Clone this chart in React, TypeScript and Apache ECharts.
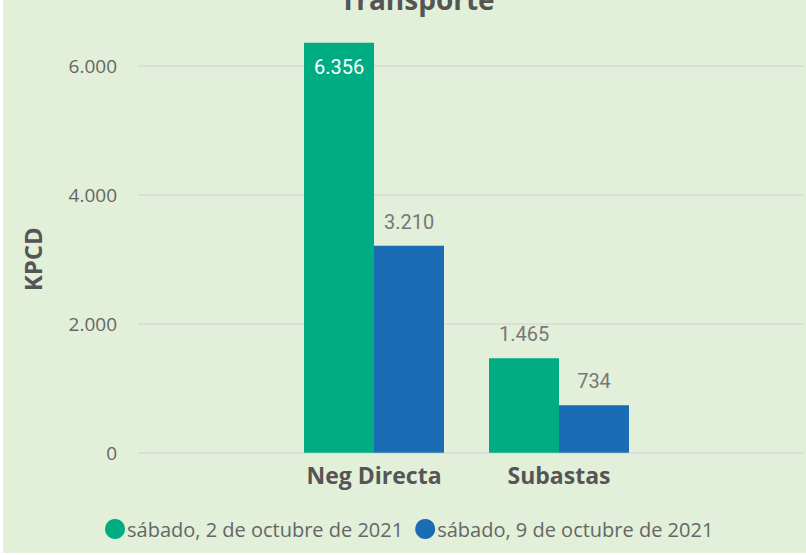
import React, { useEffect, useRef } from "react";
import * as echarts from "echarts";

const categories = ["Neg Directa", "Subastas"];
const seriesNames = ["sábado, 2 de octubre de 2021", "sábado, 9 de octubre de 2021"];
const values2Oct = [6356, 1465];
const values9Oct = [3210, 734];
const yTicks = [0, 2000, 4000, 6000];

const GREEN = "#00ad82";
const BLUE = "#1a6cb4";
const fmt = (v: number) => v.toLocaleString("de-DE");

export default function App() {
  const ref = useRef<HTMLDivElement>(null);
  useEffect(() => {
    if (!ref.current) return;
    const chart = echarts.init(ref.current, undefined, { renderer: "svg" });
    const bottom = 102.3;
    const labelCommon = {
      show: true,
      fontFamily: "Roboto",
      fontSize: 20,
      color: "#777777",
      formatter: (p: any) => fmt(p.value),
    };
    chart.setOption({
      animation: false,
      backgroundColor: "#ffffff",
      graphic: [
        { type: "rect", z: -10, silent: true, shape: { x: 3, y: 0, width: 803, height: 553 }, style: { fill: "#e2efd9" } },
      ],
      title: {
        text: "Transporte",
        left: 335,
        top: -20,
        textStyle: { fontFamily: "Open Sans", fontWeight: "bold", fontSize: 28, color: "#555555" },
      },
      legend: {
        data: seriesNames,
        bottom: 11,
        left: 100,
        icon: "circle",
        itemWidth: 20,
        itemHeight: 20,
        itemGap: 12,
        textStyle: { fontFamily: "Open Sans", fontSize: 20, color: "#666666", padding: [0, 0, 0, -3] },
      },
      grid: [
        { left: 138, right: 3, top: 65.7, bottom },
        { left: 281.5, width: 370, top: 33.5, bottom },
      ],
      xAxis: [
        { type: "value", gridIndex: 0, show: false, min: 0, max: 1 },
        {
          type: "category",
          gridIndex: 1,
          data: categories,
          axisLine: { show: false },
          axisTick: { show: false },
          axisLabel: { fontFamily: "Open Sans", fontWeight: "bold", fontSize: 23, color: "#555555", margin: 11 },
        },
      ],
      yAxis: [
        {
          type: "value",
          gridIndex: 0,
          min: 0,
          max: 6000,
          interval: 2000,
          name: "KPCD",
          nameLocation: "middle",
          nameGap: 94,
          nameTextStyle: { fontFamily: "Open Sans", fontWeight: "bold", fontSize: 24, color: "#555555" },
          axisLine: { show: false },
          axisTick: { show: false },
          axisLabel: {
            fontFamily: "Open Sans",
            fontSize: 19,
            color: "#666666",
            margin: 21,
            formatter: (v: number) => (yTicks.includes(v) ? fmt(v) : ""),
          },
          splitLine: { lineStyle: { color: "#d8dbd4", width: 1.5 } },
        },
        { type: "value", gridIndex: 1, min: 0, max: 6500, show: false },
      ],
      series: [
        {
          name: seriesNames[0],
          type: "bar",
          xAxisIndex: 1,
          yAxisIndex: 1,
          data: values2Oct.map((v, i) =>
            i === 0
              ? { value: v, label: { position: "insideTop", distance: 14, color: "#ffffff" } }
              : v
          ),
          barWidth: 70,
          barGap: "0%",
          itemStyle: { color: GREEN },
          label: { ...labelCommon, position: "top", distance: 14 },
        },
        {
          name: seriesNames[1],
          type: "bar",
          xAxisIndex: 1,
          yAxisIndex: 1,
          data: values9Oct,
          barWidth: 70,
          barGap: "0%",
          itemStyle: { color: BLUE },
          label: { ...labelCommon, position: "top", distance: 14 },
        },
      ],
    });
    return () => chart.dispose();
  }, []);
  return <div ref={ref} style={{ position: "absolute", left: 0, top: 0, width: 806, height: 555 }} />;
}
